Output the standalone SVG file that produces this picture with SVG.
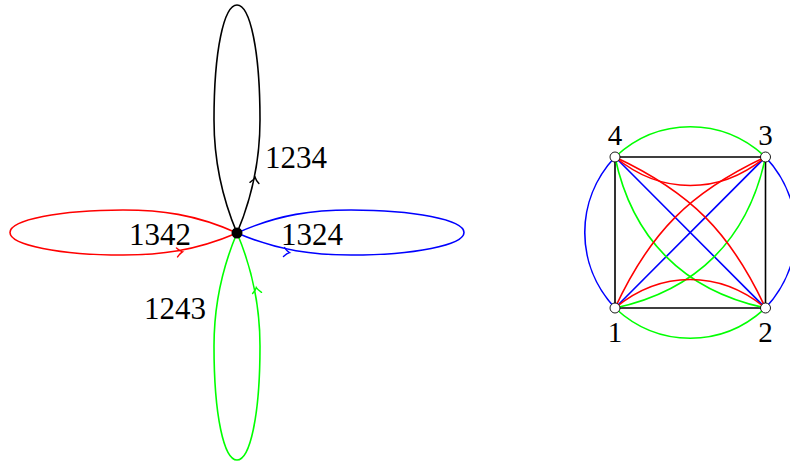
<svg xmlns="http://www.w3.org/2000/svg" width="790" height="463" viewBox="0 0 790 463">
<style>
.e{fill:none;stroke-width:1.6}
.k{stroke:#000}
.r{stroke:#ff0000}
.g{stroke:#00ff00}
.b{stroke:#0000ff}
.t{font-family:"Liberation Serif","DejaVu Serif",serif;fill:#000}
.lt{font-size:31px}
.nt{font-size:29px;text-anchor:middle}
.node{fill:#fff;stroke:#000;stroke-width:0.9}
</style>
<defs>
<path id="arr" d="M-4,-4.5 Q-1,-1 1.5,0 Q-1,1 -4,4.5" fill="none" stroke-width="1.4" stroke-linecap="round"/>
</defs>
<g id="connectors">
<path class="e k" d="M237,233 C223,200 214,165 214,120 C214,50 224,5 237,5 C250,5 260,50 260,120 C260,165 251,200 237,233"/>
<path class="e g" d="M237,233 C223,266 214,301 214,346 C214,416 224,460 237,460 C250,460 260,416 260,346 C260,301 251,266 237,233"/>
<path class="e r" d="M237,233 C195,214 160,210 123,210 C60,210 10,220 10,232.5 C10,245 60,255 123,255 C160,255 195,251 237,233"/>
<path class="e b" d="M237,233 C279,214 314,210 351,210 C414,210 464,220 464,232.5 C464,245 414,255 351,255 C314,255 279,251 237,233"/>
<use href="#arr" stroke="#000" transform="translate(255,179) rotate(-82)"/>
<use href="#arr" stroke="#00ff00" transform="translate(256.5,289) rotate(-98)"/>
<use href="#arr" stroke="#ff0000" transform="translate(181,252) rotate(-7)"/>
<use href="#arr" stroke="#0000ff" transform="translate(288,252.5) rotate(7)"/>
<path class="e k" d="M615,157 H765.5 V308 H615 Z" stroke-width="1.8"/>
<path class="e b" d="M615,157 L765.5,308 M615,308 L765.5,157"/>
<path class="e b" d="M615,157 C574.7,200.2 574.7,264.8 615,308"/>
<path class="e b" d="M765.5,157 C805.8,200.2 805.8,264.8 765.5,308"/>
<path class="e g" d="M615,157 C658.2,116.7 722.3,116.7 765.5,157"/>
<path class="e g" d="M615,308 C658.2,348.3 722.3,348.3 765.5,308"/>
<path class="e g" d="M615,157 C632.2,238.7 683.9,290.5 765.5,308"/>
<path class="e g" d="M765.5,157 C748.3,238.7 696.6,290.5 615,308"/>
<path class="e r" d="M615,157 C690.6,192.4 730.3,232.2 765.5,308"/>
<path class="e r" d="M765.5,157 C689.9,192.4 650.2,232.2 615,308"/>
<path class="e r" d="M615,157 C660.8,195 719.7,195 765.5,157"/>
<path class="e r" d="M615,308 C660.8,270 719.7,270 765.5,308"/>
</g>
<g id="center"><circle cx="237" cy="233" r="5.5" fill="#000"/></g>
<g id="label-1234"><text class="t lt" x="265" y="168">1234</text></g>
<g id="label-1342"><text class="t lt" x="129" y="245">1342</text></g>
<g id="label-1324"><text class="t lt" x="281" y="245">1324</text></g>
<g id="label-1243"><text class="t lt" x="144" y="319">1243</text></g>
<g id="n4"><circle class="node" cx="615" cy="157" r="5"/><text class="t nt" x="615" y="145">4</text></g>
<g id="n3"><circle class="node" cx="765.5" cy="157" r="5"/><text class="t nt" x="765.5" y="145">3</text></g>
<g id="n1"><circle class="node" cx="615" cy="308" r="5"/><text class="t nt" x="615" y="342">1</text></g>
<g id="n2"><circle class="node" cx="765.5" cy="308" r="5"/><text class="t nt" x="765.5" y="342">2</text></g>
</svg>
